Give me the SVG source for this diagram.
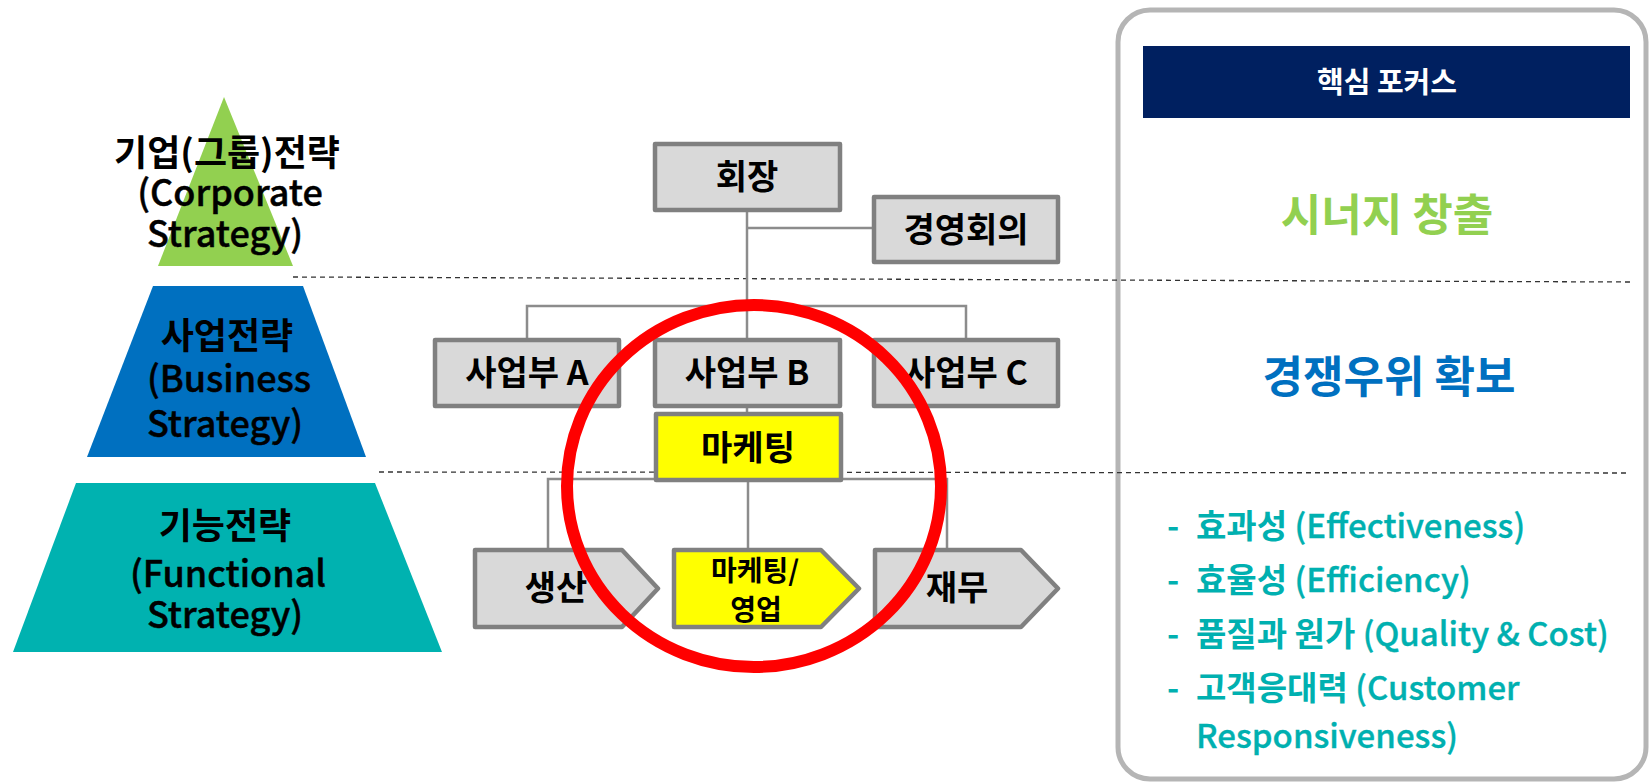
<svg xmlns="http://www.w3.org/2000/svg" width="1651" height="784" viewBox="0 0 1651 784">
<style>
.k{font-family:"Noto Sans CJK KR","Noto Sans",sans-serif;font-weight:700;}
.e{font-family:"Noto Sans CJK KR","Noto Sans",sans-serif;font-weight:500;}
.pt{font-size:36px;fill:#000;text-anchor:middle;}
.pe{stroke:#000;stroke-width:0.45;}
.nt{font-size:34px;fill:#000;text-anchor:middle;}
.box{fill:#d9d9d9;stroke:#808080;stroke-width:4.5;stroke-linejoin:round;}
.ybox{fill:#ffff00;stroke:#808080;stroke-width:4.5;stroke-linejoin:round;}
.conn{stroke:#8c8c8c;stroke-width:2.5;fill:none;}
.dash{stroke:#333;stroke-width:1.3;stroke-dasharray:5 4;fill:none;}
.bul{font-size:33px;fill:#00b0b0;}
.be{stroke:#00b0b0;stroke-width:0.35;}
</style>

<g id="pyramid">
  <g id="corporate">
    <polygon points="224,97 293,266 158,266" fill="#92d050"/>
    <text class="k pt" x="227" y="166">기업(그룹)전략</text>
    <text class="e pt pe" x="230" y="206">(Corporate</text>
    <text class="e pt pe" x="225" y="247">Strategy)</text>
  </g>
  <g id="business">
    <polygon points="153,286 303,286 366,457 87,457" fill="#0070c0"/>
    <text class="k pt" x="227" y="349">사업전략</text>
    <text class="e pt pe" x="229" y="392">(Business</text>
    <text class="e pt pe" x="225" y="437">Strategy)</text>
  </g>
  <g id="functional">
    <polygon points="76,483 375,483 442,652 13,652" fill="#00b2b0"/>
    <text class="k pt" x="225" y="539">기능전략</text>
    <text class="e pt pe" x="228" y="587">(Functional</text>
    <text class="e pt pe" x="225" y="628">Strategy)</text>
  </g>
</g>

<g id="panel">
  <rect x="1118" y="10" width="528" height="769" rx="32" fill="#fff" stroke="#b5b5b5" stroke-width="5"/>
  <rect x="1143" y="46" width="487" height="72" fill="#002060"/>
  <text class="k" x="1387" y="93" font-size="29" fill="#fff" text-anchor="middle">핵심 포커스</text>
  <text class="k" x="1387" y="231" font-size="44" fill="#92d050" text-anchor="middle">시너지 창출</text>
  <text class="k" x="1389" y="393" font-size="44" fill="#0070c0" text-anchor="middle">경쟁우위 확보</text>
  <g id="bullets">
    <text class="k bul" x="1167" y="538">-</text>
    <text class="bul" x="1196" y="538"><tspan class="k">효과성</tspan><tspan class="e be"> (Effectiveness)</tspan></text>
    <text class="k bul" x="1167" y="592">-</text>
    <text class="bul" x="1196" y="592"><tspan class="k">효율성</tspan><tspan class="e be"> (Efficiency)</tspan></text>
    <text class="k bul" x="1167" y="646">-</text>
    <text class="bul" x="1196" y="646"><tspan class="k">품질과 원가</tspan><tspan class="e be"> (Quality &amp; Cost)</tspan></text>
    <text class="k bul" x="1167" y="700">-</text>
    <text class="bul" x="1196" y="700"><tspan class="k">고객응대력</tspan><tspan class="e be"> (Customer</tspan></text>
    <text class="e bul be" x="1196" y="748">Responsiveness)</text>
  </g>
</g>

<g id="dividers">
  <line class="dash" x1="293" y1="277" x2="1630" y2="282"/>
  <line class="dash" x1="379" y1="472" x2="1630" y2="473"/>
</g>

<g id="connectors">
  <line class="conn" x1="747" y1="210" x2="747" y2="340"/>
  <line class="conn" x1="747" y1="228" x2="874" y2="228"/>
  <polyline class="conn" points="527,340 527,306 966,306 966,340"/>
  <line class="conn" x1="747" y1="406" x2="747" y2="414"/>
  <polyline class="conn" points="548,550 548,479 947,479 947,550"/>
  <line class="conn" x1="748" y1="480" x2="748" y2="550"/>
</g>

<g id="node-chairman">
  <rect class="box" x="655" y="144" width="185" height="66"/>
  <text class="k nt" x="747" y="189">회장</text>
</g>
<g id="node-board">
  <rect class="box" x="874" y="197" width="184" height="65"/>
  <text class="k nt" x="966" y="242">경영회의</text>
</g>
<g id="node-div-a">
  <rect class="box" x="435" y="340" width="184" height="66"/>
  <text class="k nt" x="527" y="385">사업부 A</text>
</g>
<g id="node-div-b">
  <rect class="box" x="655" y="340" width="185" height="66"/>
  <text class="k nt" x="747" y="385">사업부 B</text>
</g>
<g id="node-div-c">
  <rect class="box" x="874" y="340" width="184" height="66"/>
  <text class="k nt" x="966" y="385">사업부 C</text>
</g>
<g id="node-marketing">
  <rect class="ybox" x="656" y="414" width="185" height="66"/>
  <text class="k nt" x="748" y="460">마케팅</text>
</g>
<g id="node-production">
  <polygon class="box" points="475,550 622,550 658,588.5 622,627 475,627"/>
  <text class="k nt" x="556" y="600">생산</text>
</g>
<g id="node-sales">
  <polygon class="ybox" points="674,550 821,550 859,588.5 821,627 674,627"/>
  <text class="k" x="755" y="581" font-size="28" text-anchor="middle">마케팅/</text>
  <text class="k" x="756" y="620" font-size="28" text-anchor="middle">영업</text>
</g>
<g id="node-finance">
  <polygon class="box" points="875,550 1021,550 1058,588.5 1021,627 875,627"/>
  <text class="k nt" x="957" y="600">재무</text>
</g>

<g id="highlight">
  <ellipse cx="754" cy="486" rx="187" ry="181" fill="none" stroke="#ff0000" stroke-width="12"/>
</g>
</svg>
